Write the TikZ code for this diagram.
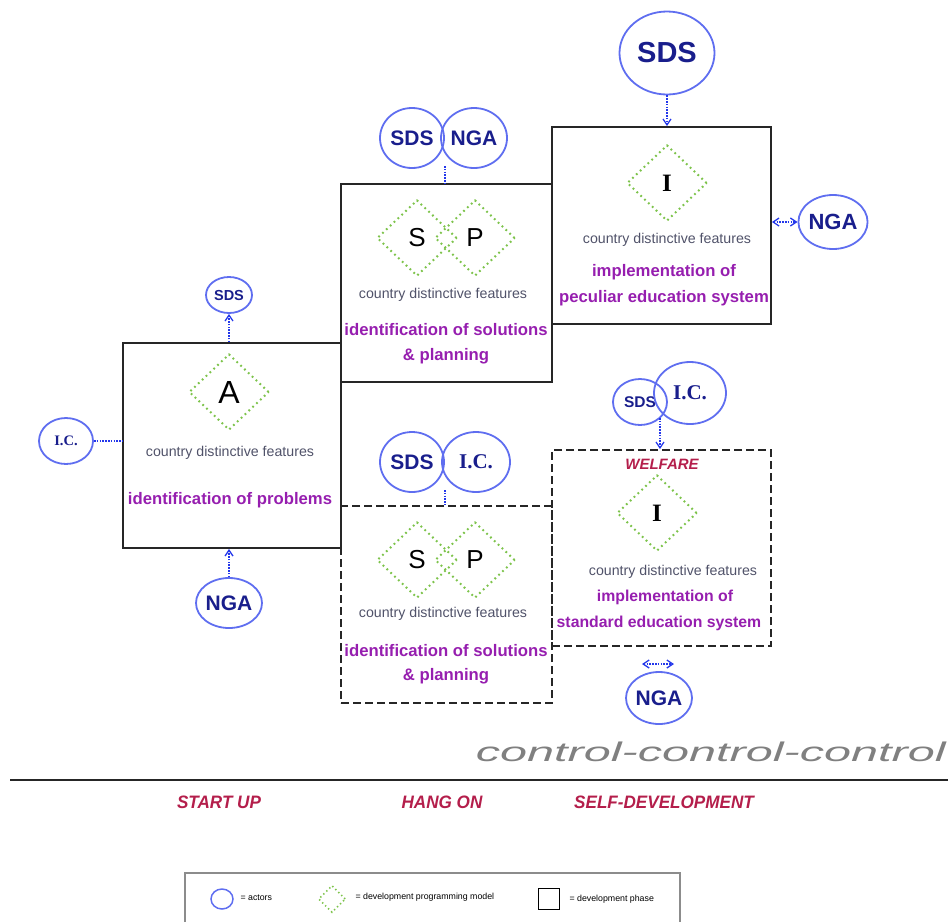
\documentclass[tikz,border=0pt]{standalone}
\usepackage{fontspec}
\setmainfont{Liberation Sans}
\newfontfamily\serifb{Liberation Serif}
\usetikzlibrary{shapes.geometric,arrows.meta}
\definecolor{actorline}{RGB}{95,110,240}
\definecolor{actortext}{RGB}{25,30,140}
\definecolor{conn}{RGB}{35,55,235}
\definecolor{modelgreen}{RGB}{125,195,75}
\definecolor{phasepurple}{RGB}{150,30,175}
\definecolor{featgrey}{RGB}{80,82,105}
\definecolor{crimson}{RGB}{180,30,75}
\definecolor{ctrlgrey}{RGB}{128,128,128}
\tikzset{
  actor/.style={ellipse,draw=actorline,line width=1.8pt,inner sep=0pt,text=actortext,font=\bfseries},
  model/.style={diamond,draw=modelgreen,line width=2pt,dash pattern=on 1.8pt off 3.5pt,inner sep=0pt,minimum width=80pt,minimum height=76pt},
  phase/.style={rectangle,draw=black!85,line width=1.8pt,inner sep=0pt},
  dphase/.style={phase,dash pattern=on 8pt off 4pt},
  feat/.style={text=featgrey,font=\fontsize{14.2}{16}\selectfont},
  ptitle/.style={text=phasepurple,font=\fontsize{16.7}{19}\selectfont\bfseries,align=center},
  ptitlesm/.style={ptitle,font=\fontsize{15.8}{19}\selectfont\bfseries},
  link/.style={draw=conn,line width=1.8pt,dash pattern=on 1.6pt off 1.2pt},
  barb/.tip={Straight Barb[length=6pt,width=8pt,line width=1.3pt]},
  tip/.style={-barb},
  stage/.style={text=crimson,font=\fontsize{18}{20}\selectfont\bfseries\itshape},
  legtext/.style={anchor=west,font=\fontsize{8.8}{10}\selectfont}
}
\begin{document}
\begin{tikzpicture}[x=1pt,y=-1pt]
\useasboundingbox (0,0) rectangle (948,922);
% ---------- phase boxes ----------
\node[phase,minimum width=218pt,minimum height=205pt] (boxA) at (232,445.5) {};
\node[phase,minimum width=211pt,minimum height=198pt] (boxSP1) at (446.5,283) {};
\node[phase,minimum width=219pt,minimum height=197pt] (boxI1) at (661.5,225.5) {};
\node[dphase,minimum width=211pt,minimum height=197pt] (boxSP2) at (446.5,604.5) {};
\node[dphase,minimum width=219pt,minimum height=196pt] (boxI2) at (661.5,548) {};
% ---------- box A ----------
\node[model,font=\fontsize{32}{32}\selectfont] (dA) at (229,392) {A};
\node[feat] (fA) at (230,453) {country distinctive features};
\node[ptitle] (tA) at (230,500) {identification of problems};
\node[actor,minimum width=46pt,minimum height=36pt,font=\fontsize{14.5}{14}\selectfont\bfseries] (sdsA) at (229,295) {SDS};
\node[actor,minimum width=54pt,minimum height=46pt,font=\serifb\fontsize{14.5}{14}\selectfont\bfseries] (icA) at (66,441) {I.C.};
\node[actor,minimum width=58pt,minimum height=50pt,font=\fontsize{21}{21}\selectfont\bfseries] (ngaA) at (229,603) {NGA};
\draw[link,tip] (boxA.north -| sdsA) -- (sdsA.south);
\draw[link] (icA.east) -- (icA.east -| boxA.west);
\draw[link,tip] (ngaA.north) -- (ngaA.north |- boxA.south);
% ---------- box SP1 ----------
\node[model,font=\fontsize{26}{26}\selectfont] (dS1) at (417,238) {S};
\node[model,font=\fontsize{26}{26}\selectfont] (dP1) at (475,238) {P};
\node[feat] (fSP1) at (443,295) {country distinctive features};
\node[ptitle] (tSP1a) at (446,330) {identification of solutions};
\node[ptitle] (tSP1b) at (446,356) {\& planning};
\node[actor,minimum width=64pt,minimum height=60pt,font=\fontsize{21}{21}\selectfont\bfseries] (sds1) at (412,138) {SDS};
\node[actor,minimum width=64pt,minimum height=60pt,font=\fontsize{21}{21}\selectfont\bfseries] (nga1) at (474,138) {NGA};
\coordinate (x1) at (445,166);
\draw[link] (x1) -- (x1 |- boxSP1.north);
% ---------- box I1 ----------
\node[model,font=\serifb\fontsize{25}{25}\selectfont\bfseries] (dI1) at (667,183) {I};
\node[feat] (fI1) at (667,240) {country distinctive features};
\node[ptitle] (tI1a) at (664,272) {implementation of};
\node[ptitle] (tI1b) at (664,298) {peculiar education system};
\node[actor,minimum width=95pt,minimum height=83pt,font=\fontsize{29}{29}\selectfont\bfseries] (sdsI) at (667,53) {SDS};
\node[actor,minimum width=62pt,minimum height=54pt,font=\fontsize{22}{22}\selectfont\bfseries] (ngaI) at (833,222) {NGA};
\draw[link,tip] (sdsI.south) -- (sdsI.south |- boxI1.north);
\draw[link,barb-barb] (ngaI.west -| boxI1.east) -- (ngaI.west);
% ---------- box SP2 ----------
\node[model,font=\fontsize{26}{26}\selectfont] (dS2) at (417,560) {S};
\node[model,font=\fontsize{26}{26}\selectfont] (dP2) at (475,560) {P};
\node[feat] (fSP2) at (443,614) {country distinctive features};
\node[ptitle] (tSP2a) at (446,651) {identification of solutions};
\node[ptitle] (tSP2b) at (446,676) {\& planning};
\node[actor,minimum width=64pt,minimum height=60pt,font=\fontsize{21}{21}\selectfont\bfseries] (sds2) at (412,462) {SDS};
\node[actor,minimum width=68pt,minimum height=60pt,font=\serifb\fontsize{21}{21}\selectfont\bfseries] (ic2) at (476,462) {I.C.};
\coordinate (x2) at (445,490);
\draw[link] (x2) -- (x2 |- boxSP2.north);
% ---------- box I2 ----------
\node[text=crimson,font=\fontsize{15}{15}\selectfont\bfseries\itshape] (wel) at (662,464) {WELFARE};
\node[model,font=\serifb\fontsize{25}{25}\selectfont\bfseries] (dI2) at (657,513) {I};
\node[feat] (fI2) at (673,572) {country distinctive features};
\node[ptitlesm] (tI2a) at (665,597) {implementation of};
\node[ptitlesm] (tI2b) at (659,623) {standard education system};
\node[actor,minimum width=54pt,minimum height=46pt,font=\fontsize{15.5}{15}\selectfont\bfseries] (sds3) at (640,402) {SDS};
\node[actor,minimum width=72pt,minimum height=62pt,font=\serifb\fontsize{21}{21}\selectfont\bfseries] (ic3) at (690,393) {I.C.};
\coordinate (x3) at (660,418);
\draw[link,tip] (x3) -- (x3 |- boxI2.north);
\coordinate (da) at (642,664);
\coordinate (db) at (674,664);
\draw[link,barb-barb] (da) -- (db);
\node[actor,minimum width=60pt,minimum height=52pt,font=\fontsize{21}{21}\selectfont\bfseries] (nga3) at (659,698) {NGA};
% ---------- control & stages ----------
\node[anchor=east,text=ctrlgrey,font=\fontsize{27}{27}\selectfont\itshape,inner sep=0pt] (ctrl) at (946,752) {\scalebox{1.8}[1]{control-control-control}};
\coordinate (l1) at (10,780);
\coordinate (l2) at (948,780);
\draw[line width=1.8pt,black!85] (l1) -- (l2);
\node[stage] (s1) at (219,802) {\scalebox{0.95}[1]{START UP}};
\node[stage] (s2) at (442,802) {\scalebox{0.95}[1]{HANG ON}};
\node[stage] (s3) at (664,802) {\scalebox{0.95}[1]{SELF-DEVELOPMENT}};
% ---------- legend ----------
\coordinate (g1) at (185,922);
\coordinate (g2) at (185,873);
\coordinate (g3) at (680,873);
\coordinate (g4) at (680,922);
\draw[black!45,line width=1.2pt] (g1) -- (g2) -- (g3) -- (g4);
\node[ellipse,draw=actorline,line width=1.5pt,minimum width=22pt,minimum height=20pt,inner sep=0pt] (lc) at (222,899) {};
\node[legtext] (lct) at (237,898) {= actors};
\node[diamond,draw=modelgreen,line width=1.6pt,dash pattern=on 1.4pt off 2.8pt,minimum width=27pt,minimum height=27pt,inner sep=0pt] (ld) at (332,899) {};
\node[legtext] (ldt) at (352,897) {= development programming model};
\node[rectangle,draw=black,line width=1.6pt,minimum width=21pt,minimum height=21pt,inner sep=0pt] (lb) at (549,899) {};
\node[legtext] (lbt) at (566,899) {= development phase};
\end{tikzpicture}
\end{document}
